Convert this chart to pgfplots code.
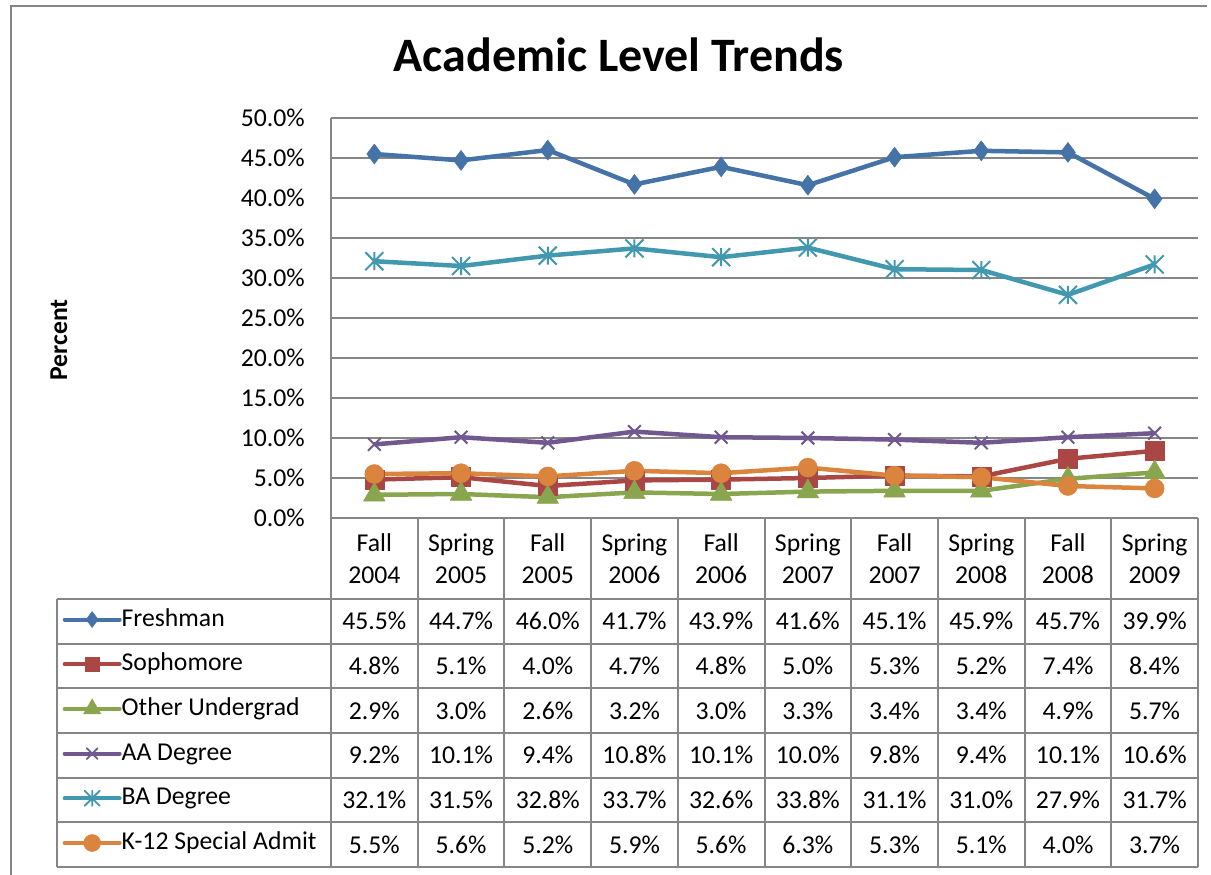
\documentclass[border=0pt]{standalone}
\usepackage{pgfplots}
\pgfplotsset{compat=1.18}
\usepackage{pgfplotstable}
\usepackage{fontspec}
\setmainfont{Carlito}
\usetikzlibrary{plotmarks}
\pgfkeys{/pgf/number format/assume math mode=true}

\definecolor{cBlue}{HTML}{4572A7}
\definecolor{cRed}{HTML}{AA4643}
\definecolor{cGreen}{HTML}{89A54E}
\definecolor{cPurple}{HTML}{71588F}
\definecolor{cTeal}{HTML}{4198AF}
\definecolor{cOrange}{HTML}{DB843D}
\definecolor{gridgray}{HTML}{868686}

\pgfdeclareplotmark{xstar}{%
  \pgfpathmoveto{\pgfqpoint{-\pgfplotmarksize}{-\pgfplotmarksize}}%
  \pgfpathlineto{\pgfqpoint{\pgfplotmarksize}{\pgfplotmarksize}}%
  \pgfpathmoveto{\pgfqpoint{-\pgfplotmarksize}{\pgfplotmarksize}}%
  \pgfpathlineto{\pgfqpoint{\pgfplotmarksize}{-\pgfplotmarksize}}%
  \pgfpathmoveto{\pgfqpoint{0pt}{-\pgfplotmarksize}}%
  \pgfpathlineto{\pgfqpoint{0pt}{\pgfplotmarksize}}%
  \pgfusepathqstroke}

\newcommand\tabfont{\fontsize{25.7pt}{32pt}\selectfont}

\pgfplotstableread{
x  fr    so   ou   aa    ba    kt
0  45.5  4.8  2.9  9.2   32.1  5.5
1  44.7  5.1  3.0  10.1  31.5  5.6
2  46.0  4.0  2.6  9.4   32.8  5.2
3  41.7  4.7  3.2  10.8  33.7  5.9
4  43.9  4.8  3.0  10.1  32.6  5.6
5  41.6  5.0  3.3  10.0  33.8  6.3
6  45.1  5.3  3.4  9.8   31.1  5.3
7  45.9  5.2  3.4  9.4   31.0  5.1
8  45.7  7.4  4.9  10.1  27.9  4.0
9  39.9  8.4  5.7  10.6  31.7  3.7
}\datatable

\begin{document}
\begin{tikzpicture}
\useasboundingbox (0pt,0pt) rectangle (1211pt,-875pt);
% outer frame
\draw[gridgray, line width=2.5pt] (11pt,-880pt) -- (11pt,-6pt) -- (1207pt,-6pt);

\node[font=\fontsize{48pt}{56pt}\selectfont\bfseries, anchor=base, inner sep=0pt] at (619pt,-72pt) {Academic Level Trends};
\node[font=\fontsize{25.7pt}{30pt}\selectfont\bfseries, rotate=90, inner sep=0pt] at (59pt,-340pt) {Percent};

\begin{axis}[
  at={(331pt,-518pt)}, anchor=south west,
  scale only axis, width=867pt, height=400pt,
  xmin=-0.5, xmax=9.5, ymin=0, ymax=50,
  clip=false,
  axis lines*=left,
  axis line style={-, draw=gridgray, line width=2pt},
  ymajorgrids,
  major grid style={draw=gridgray, line width=2pt},
  major tick length=0pt,
  ytick={0,5,...,50},
  yticklabel={\pgfmathprintnumber[fixed,fixed zerofill,precision=1]{\tick}\%},
  /pgf/number format/assume math mode=true,
  yticklabel style={anchor=east, inner sep=0pt, xshift=-26pt, font=\tabfont},
  xtick={0,...,9},
  xticklabels={{Fall\\2004},{Spring\\2005},{Fall\\2005},{Spring\\2006},{Fall\\2006},{Spring\\2007},{Fall\\2007},{Spring\\2008},{Fall\\2008},{Spring\\2009}},
  xticklabel style={align=center, anchor=center, inner sep=0pt, yshift=-40.3pt, font=\tabfont},
  legend image code/.code={\draw[mark repeat=2, mark phase=2, line cap=round, #1] plot coordinates {(0pt,0pt) (27.5pt,0pt) (55pt,0pt)};},
  legend cell align=left,
  legend style={at={(-0.3095,-0.225)}, anchor=north west, draw=none, fill=none,
    inner sep=0pt, outer sep=0pt, row sep=21.7pt, column sep=0pt, font=\tabfont,
    nodes={inner sep=0pt, text height=18pt, text depth=5pt}},
]
\addlegendimage{cBlue, line width=4pt, mark=diamond*, mark size=8pt, mark options={solid, fill=cBlue, line width=0.5pt}}
\addlegendentry{Freshman}
\addlegendimage{cRed, line width=4pt, mark=square*, mark size=7pt, mark options={solid, fill=cRed, line width=0.5pt}}
\addlegendentry{Sophomore}
\addlegendimage{cGreen, line width=4pt, mark=triangle*, mark size=10pt, mark options={solid, fill=cGreen, line width=0.5pt}}
\addlegendentry{Other Undergrad}
\addlegendimage{cPurple, line width=4pt, mark=x, mark size=7.5pt, mark options={solid, line width=1.8pt}}
\addlegendentry{AA Degree}
\addlegendimage{cTeal, line width=4pt, mark=xstar, mark size=7.5pt, mark options={solid, line width=1.8pt}}
\addlegendentry{BA Degree}
\addlegendimage{cOrange, line width=4pt, mark=*, mark size=8.5pt, mark options={solid, fill=cOrange, line width=0.5pt}}
\addlegendentry{K-12 Special Admit}

\addplot[forget plot, cBlue, line width=4.5pt, line join=round, mark=diamond*, mark size=10pt, mark options={fill=cBlue, line width=0.5pt}] table[x=x,y=fr]{\datatable};
\addplot[forget plot, cRed, line width=4.5pt, line join=round, mark=square*, mark size=9.5pt, mark options={fill=cRed, line width=0.5pt}] table[x=x,y=so]{\datatable};
\addplot[forget plot, cGreen, line width=4.5pt, line join=round, mark=triangle*, mark size=12.5pt, mark options={fill=cGreen, line width=0.5pt}] table[x=x,y=ou]{\datatable};
\addplot[forget plot, cPurple, line width=4.5pt, line join=round, mark=x, mark size=9pt, mark options={line width=2pt}] table[x=x,y=aa]{\datatable};
\addplot[forget plot, cTeal, line width=4.5pt, line join=round, mark=xstar, mark size=9pt, mark options={line width=2pt}] table[x=x,y=ba]{\datatable};
\addplot[forget plot, cOrange, line width=4.5pt, line join=round, mark=*, mark size=9.5pt, mark options={fill=cOrange, line width=0.5pt}] table[x=x,y=kt]{\datatable};
\end{axis}

% data table grid
\foreach \yy in {599,643.7,688.3,733,777.7,822.3,867} {
  \draw[gridgray, line width=2pt] (56.7pt,-\yy pt) -- (1198pt,-\yy pt);
}
\draw[gridgray, line width=2pt] (56.7pt,-599pt) -- (56.7pt,-867pt);
\foreach \k in {0,...,10} {
  \pgfmathsetmacro\vx{331+86.7*\k}
  \draw[gridgray, line width=2pt] (\vx pt,-518pt) -- (\vx pt,-867pt);
}
% data table values
\foreach \col [count=\r from 0] in {fr,so,ou,aa,ba,kt} {
  \foreach \i in {0,...,9} {
    \pgfplotstablegetelem{\i}{\col}\of\datatable
    \let\val\pgfplotsretval
    \pgfmathsetmacro\cx{331+86.7*(\i+0.5)}
    \pgfmathsetmacro\cy{-(599+44.7*\r+22.35+8.3)}
    \node[anchor=base, inner sep=0pt, font=\tabfont] at (\cx pt,\cy pt) {\pgfmathprintnumber[fixed,fixed zerofill,precision=1]{\val}\%};
  }
}
\end{tikzpicture}
\end{document}
